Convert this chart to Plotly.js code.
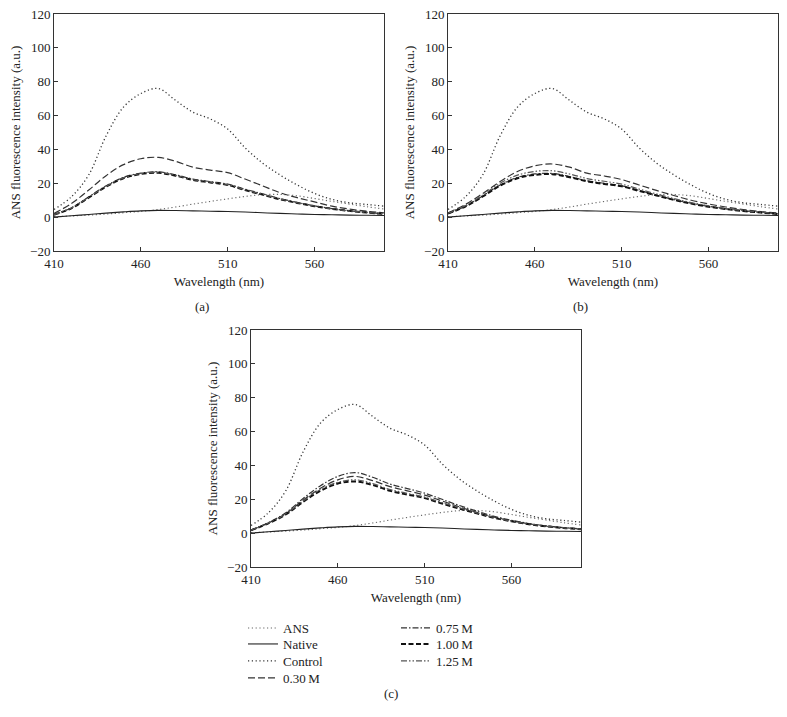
<!DOCTYPE html>
<html>
<head>
<meta charset="utf-8">
<script src="https://cdn.plot.ly/plotly-3.0.1.min.js"></script>
<style>html,body{margin:0;padding:0;background:#fff;}#chart{width:787px;height:717px;}</style>
</head>
<body>
<div id="chart"></div>
<script>
// Wavelength (nm)
const wavelength = [410,420,430,440,450,460,470,480,490,500,510,520,530,540,550,560,570,580,590,600];

// Shared curves (same in all panels)
const ansValues     = [0.3,0.7,1.2,1.8,2.6,3.4,4.5,6.0,7.7,9.3,10.8,12.2,13.3,13.4,12.6,11.0,9.3,7.7,6.2,4.8];
const nativeValues  = [0.0,0.8,1.6,2.4,3.1,3.7,4.0,3.9,3.7,3.5,3.3,3.0,2.6,2.2,1.9,1.6,1.4,1.2,1.1,1.0];
const controlValues = [4.5,12,25,48,65,73,76,69,62,58,52,41,32,25,19,14,10.5,8.5,7.5,6.5];

// Panel (a)
const a030 = [2.2,8.0,16,24.5,31,34.5,35.3,33,29.5,27.8,26.3,22.5,18.5,14.5,11.5,9.0,6.5,4.8,3.5,2.5];
const a075 = [1.5,5.5,12,18.5,23.5,26.0,26.8,25,22.5,21.0,19.5,16.5,13.8,11.0,8.7,6.7,5.0,3.8,2.8,2.0];
const a100 = [1.4,5.2,11.5,18,23,25.5,26.2,24.5,22,20.5,19,16,13.3,10.6,8.4,6.5,4.9,3.7,2.7,1.9];
const a125 = [1.5,5.4,11.8,18.2,23.2,25.7,26.5,24.7,22.2,20.7,19.2,16.2,13.5,10.8,8.5,6.6,4.9,3.7,2.8,2.0];

// Panel (b)
const b030 = [2.5,7.5,14,21,27,30.3,31.4,29.5,26,24.3,22.2,19,15.8,12.8,10,7.8,6.0,4.5,3.3,2.5];
const b075 = [2.2,6.5,12.5,19,23.5,25.5,25.8,24,21.5,20,18.5,15.8,13,10.4,8.2,6.4,4.9,3.7,2.8,2.0];
const b100 = [2.1,6.3,12.2,18.6,23,25,25.4,23.6,21.2,19.6,18.2,15.5,12.8,10.2,8.0,6.2,4.8,3.6,2.7,1.9];
const b125 = [2.3,6.8,13,20,24.8,27,27.4,25.5,22.8,21.2,19.5,16.6,13.7,11,8.6,6.7,5.1,3.9,2.9,2.1];

// Panel (c)
const c030 = [1.8,6.0,11.5,19.5,26.5,31.5,33.5,31,27.5,25,22.5,19,15.5,12.3,9.5,7.3,5.5,4.2,3.2,2.4];
const c075 = [1.8,6.2,12,20.5,28,33.5,35.8,33,29,26.3,23.6,20,16.3,13,10,7.6,5.7,4.3,3.3,2.5];
const c100 = [1.7,5.8,11,18.5,25,29.3,30.5,28.5,25,22.8,20.7,17.5,14.5,11.7,9.0,7.0,5.3,4.0,3.0,2.3];
const c125 = [1.8,6.0,11.3,19,25.8,30,31.5,29.3,25.8,23.5,21.3,18,15,12,9.2,7.1,5.4,4.1,3.1,2.4];

const seriesNames = ["ANS","Native","Control","0.30\u2009M","0.75\u2009M","1.00\u2009M","1.25\u2009M"];
const panelLabels = ["(a)","(b)","(c)"];
const xTicks = [410,460,510,560];

const styles = [
  {color:"#666", width:1.1, dash:"1.2px,2.6px"},
  {color:"#222", width:1.1, dash:"solid"},
  {color:"#333", width:1.3, dash:"1.2px,2.6px"},
  {color:"#333", width:1.2, dash:"7px,3px"},
  {color:"#333", width:1.2, dash:"6px,2px,1.5px,2px"},
  {color:"#111", width:2.0, dash:"5px,2.5px"},
  {color:"#555", width:1.2, dash:"6px,2px,1.5px,2px,1.5px,2px"}
];
// legend row for each series (left column rows 1-4, right column rows 1-3)
const legendRow = ["legend","legend2","legend3","legend4","legend","legend2","legend3"];

const panels = [
  [ansValues,nativeValues,controlValues,a030,a075,a100,a125],
  [ansValues,nativeValues,controlValues,b030,b075,b100,b125],
  [ansValues,nativeValues,controlValues,c030,c075,c100,c125]
];

const traces = [];
panels.forEach((ser, p) => {
  ser.forEach((vals, i) => {
    const t = {
      x: wavelength, y: vals, type: "scatter", mode: "lines",
      name: seriesNames[i],
      line: {color: styles[i].color, width: styles[i].width, dash: styles[i].dash, shape: "spline", smoothing: 1},
      xaxis: p === 0 ? "x" : "x" + (p + 1),
      yaxis: p === 0 ? "y" : "y" + (p + 1),
      showlegend: p === 2,
      hoverinfo: "skip"
    };
    if (p === 2) t.legend = legendRow[i];
    traces.push(t);
  });
});

const W = 787, H = 717;
const fontFam = "Liberation Serif, Times New Roman, serif";
const boxes = [
  {l:54, r:384, t:14, b:251},
  {l:448, r:778, t:14, b:251},
  {l:251, r:581, t:330, b:567}
];

function xa(b){return {
  domain:[b.l/W, b.r/W], range:[410,600], tickvals:xTicks, ticks:"inside", ticklen:4, tickcolor:"#333",
  showline:true, linecolor:"#333", linewidth:1, mirror:true, showgrid:false, zeroline:false,
  tickfont:{family:fontFam, size:13, color:"#222"},
  title:{text:"Wavelength (nm)", font:{family:fontFam, size:13, color:"#222"}, standoff:7},
  fixedrange:true
};}
function ya(b){return {
  domain:[1-b.b/H, 1-b.t/H], range:[-20,120], dtick:20, ticks:"inside", ticklen:4, tickcolor:"#333",
  showline:true, linecolor:"#333", linewidth:1, mirror:true, showgrid:false, zeroline:false,
  tickfont:{family:fontFam, size:13, color:"#222"},
  title:{text:"ANS fluorescence intensity (a.u.)", font:{family:fontFam, size:13, color:"#222"}, standoff:6},
  fixedrange:true
};}

function leg(topPx){return {
  x:243/W, y:1-topPx/H, xanchor:"left", yanchor:"top", orientation:"h",
  bgcolor:"rgba(0,0,0,0)", font:{family:fontFam, size:13, color:"#222"},
  itemwidth:30, entrywidth:108, entrywidthmode:"pixels", tracegroupgap:0
};}

const layout = {
  width:W, height:H, margin:{l:0,r:0,t:0,b:0},
  paper_bgcolor:"#fff", plot_bgcolor:"#fff",
  font:{family:fontFam, size:13, color:"#222"},
  xaxis: Object.assign(xa(boxes[0]), {anchor:"y"}),
  yaxis: Object.assign(ya(boxes[0]), {anchor:"x"}),
  xaxis2: Object.assign(xa(boxes[1]), {anchor:"y2"}),
  yaxis2: Object.assign(ya(boxes[1]), {anchor:"x2"}),
  xaxis3: Object.assign(xa(boxes[2]), {anchor:"y3"}),
  yaxis3: Object.assign(ya(boxes[2]), {anchor:"x3"}),
  legend: leg(613),
  legend2: leg(629),
  legend3: leg(646),
  legend4: leg(663),
  annotations: [
    {text:panelLabels[0], x:193/W, y:1-307/H, xref:"paper", yref:"paper", showarrow:false, font:{family:fontFam,size:13,color:"#222"}},
    {text:panelLabels[1], x:590/W, y:1-307/H, xref:"paper", yref:"paper", showarrow:false, font:{family:fontFam,size:13,color:"#222"}},
    {text:panelLabels[2], x:391/W, y:1-703/H, xref:"paper", yref:"paper", showarrow:false, font:{family:fontFam,size:13,color:"#222"}}
  ],
  showlegend:true
};

Plotly.newPlot("chart", traces, layout, {displayModeBar:false, staticPlot:true});
</script>
</body>
</html>
